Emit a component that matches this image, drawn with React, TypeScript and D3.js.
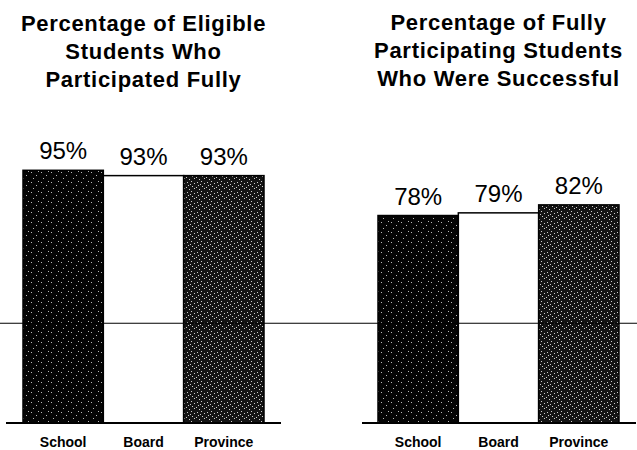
import React from "react";
import * as d3 from "d3";

const categories = ["School", "Board", "Province"];
const participatedValues = [95, 93, 93];
const successfulValues = [78, 79, 82];
const participatedTitle = ["Percentage of Eligible", "Students Who", "Participated Fully"];
const successfulTitle = ["Percentage of Fully", "Participating Students", "Who Were Successful"];
const referenceValue = 37.5;

const W = 637;
const H = 450;
const FONT = "'Liberation Sans', Arial, Helvetica, sans-serif";

const y = d3.scaleLinear().domain([0, 100]).range([423, 157]);

const fills: Record<string, string> = {
  School: "url(#speckleSchool)",
  Board: "#ffffff",
  Province: "url(#speckleProvince)",
};

function Panel({ values, title, x0, x1, axisFrom, axisTo, titleTop }) {
  const x = d3.scaleBand().domain(categories).range([x0, x1]).padding(0);
  const cx = (x0 + x1) / 2;
  return (
    <g>
      {title.map((t, i) => (
        <text
          key={t}
          x={cx}
          y={titleTop + i * 28}
          textAnchor="middle"
          fontFamily={FONT}
          fontWeight="bold"
          fontSize={22}
          letterSpacing={0.7}
          fill="#000"
        >
          {t}
        </text>
      ))}
      {categories.map((c, i) => (
        <rect
          key={c}
          x={x(c)}
          y={y(values[i])}
          width={x.bandwidth()}
          height={y(0) - y(values[i])}
          fill={fills[c]}
          stroke="#000"
          strokeWidth={1.5}
        />
      ))}
      {categories.map((c, i) => (
        <text
          key={"v" + c}
          x={x(c) + x.bandwidth() / 2}
          y={y(values[i]) - 11}
          textAnchor="middle"
          fontFamily={FONT}
          fontSize={24}
          fill="#000"
        >
          {values[i]}%
        </text>
      ))}
      {categories.map((c) => (
        <text
          key={"c" + c}
          x={x(c) + x.bandwidth() / 2}
          y={447}
          textAnchor="middle"
          fontFamily={FONT}
          fontWeight="bold"
          fontSize={14}
          fill="#000"
        >
          {c}
        </text>
      ))}
      <line x1={axisFrom} x2={axisTo} y1={y(0)} y2={y(0)} stroke="#000" strokeWidth={2} />
    </g>
  );
}

export default function App() {
  const dotsA = [[1, 2], [6, 5], [3, 8], [8, 1]];
  const dotsB = [[1, 1], [4, 3], [7, 2], [2, 6], [6, 7], [8, 5], [4, 8], [0, 4], [9, 9]];
  return (
    <svg
      width={W}
      height={H}
      style={{ position: "absolute", left: 0, top: 0, background: "#fff" }}
    >
      <defs>
        <pattern id="speckleSchool" width={10} height={10} patternUnits="userSpaceOnUse">
          <rect width={10} height={10} fill="#050505" />
          {dotsA.map(([a, b], i) => (
            <rect key={i} x={a} y={b} width={1} height={1} fill="#bbb" />
          ))}
        </pattern>
        <pattern id="speckleProvince" width={10} height={10} patternUnits="userSpaceOnUse">
          <rect width={10} height={10} fill="#141414" />
          {dotsB.map(([a, b], i) => (
            <rect key={i} x={a} y={b} width={1} height={1} fill="#ccc" />
          ))}
        </pattern>
      </defs>
      <rect width={W} height={H} fill="#fff" />
      <Panel
        values={participatedValues}
        title={participatedTitle}
        x0={23}
        x1={264}
        axisFrom={6}
        axisTo={281}
        titleTop={31}
      />
      <Panel
        values={successfulValues}
        title={successfulTitle}
        x0={378}
        x1={619}
        axisFrom={362}
        axisTo={636}
        titleTop={30}
      />
      <line
        x1={0}
        x2={W}
        y1={y(referenceValue)}
        y2={y(referenceValue)}
        stroke="#000"
        strokeWidth={1.2}
      />
    </svg>
  );
}
